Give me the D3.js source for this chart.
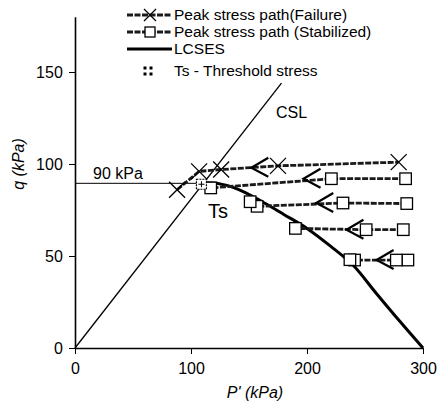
<!DOCTYPE html>
<html>
<head>
<meta charset="utf-8">
<script src="https://cdn.jsdelivr.net/npm/d3@7"></script>
<style>
  html, body { margin: 0; padding: 0; background: #fff; }
  svg { display: block; font-family: "Liberation Sans", Arial, sans-serif; }
</style>
</head>
<body>
<svg id="chart" width="437" height="409"></svg>
<script>
// Axis ticks
const xTicks = [0, 100, 200, 300];
const yTicks = [0, 50, 100, 150];

// Critical state line (p', q)
const cslP = [0, 178];
const cslQ = [0, 144];

// Limiting curve of stable effective stress (LCSES)
const lcsesP = [106, 115, 130, 145, 160, 180, 200, 220, 240, 260, 280, 300];
const lcsesQ = [89.5, 89.8, 88.5, 85, 80, 72.6, 65, 55.5, 44.8, 29.5, 14.5, 0];

// Peak stress path that ended in failure
const failP = [88, 107, 126, 175, 279];
const failQ = [86, 96, 97, 99, 101];
const failArrow = [152, 98];

// Peak stress paths that stabilized
const stabP = [
  [285, 221, 117],
  [286, 231, 157, 151],
  [283, 251, 190],
  [287, 277, 241, 237]
];
const stabQ = [
  [92, 92, 87],
  [78.5, 78.8, 77, 79.5],
  [64.3, 64.3, 65],
  [47.8, 47.8, 47.8, 48]
];
const stabArrowP = [197, 208, 234, 260];
const stabArrowQ = [92, 78.8, 64.3, 47.8];

// Threshold stress
const tsP = [109];
const tsQ = [89];
const thresholdQ = 89.5;

const legendLabels = [
  "Peak stress path(Failure)",
  "Peak stress path (Stabilized)",
  "LCSES",
  "Ts - Threshold stress"
];

const svg = d3.select("#chart");
const x = d3.scaleLinear().domain([0, 300]).range([75, 423]);
const y = d3.scaleLinear().domain([0, 180]).range([348, 16.8]);

// Axes
const xAxis = d3.axisBottom(x).tickValues(xTicks).tickSize(6).tickSizeOuter(0);
const yAxis = d3.axisLeft(y).tickValues(yTicks).tickSize(6).tickSizeOuter(0);

const gx = svg.append("g").attr("transform", `translate(0,${y(0)})`).call(xAxis);
const gy = svg.append("g").attr("transform", `translate(${x(0)},0)`).call(yAxis);
[gx, gy].forEach(g => {
  g.select(".domain").attr("stroke", "#000").attr("stroke-width", 1.6);
  g.selectAll(".tick line").attr("stroke", "#000").attr("stroke-width", 1);
  g.selectAll(".tick text").attr("fill", "#000").attr("font-size", 16)
    .attr("font-family", "Liberation Sans, Arial, sans-serif");
});
gx.selectAll(".tick text").attr("dy", "1.05em");
gy.selectAll(".tick text").attr("dx", "-0.2em");

svg.append("text").attr("x", 255).attr("y", 398).attr("text-anchor", "middle")
  .attr("font-size", 16).attr("font-style", "italic").text("P' (kPa)");
svg.append("text").attr("transform", "translate(24,164) rotate(-90)")
  .attr("text-anchor", "middle").attr("font-size", 16).attr("font-style", "italic")
  .text("q (kPa)");

const line = d3.line().x(d => x(d[0])).y(d => y(d[1]));
const zip = (a, b) => a.map((v, i) => [v, b[i]]);

// Threshold guide line
svg.append("path").attr("d", line([[0, thresholdQ], [tsP[0], thresholdQ]]))
  .attr("stroke", "#000").attr("stroke-width", 1).attr("fill", "none");
svg.append("text").attr("x", 93).attr("y", 179).attr("font-size", 16).text("90 kPa");

// CSL
svg.append("path").attr("d", line(zip(cslP, cslQ)))
  .attr("stroke", "#000").attr("stroke-width", 1.3).attr("fill", "none");
svg.append("text").attr("x", 276).attr("y", 118).attr("font-size", 16).text("CSL");

// LCSES
svg.append("path")
  .attr("d", d3.line().x(d => x(d[0])).y(d => y(d[1])).curve(d3.curveMonotoneX)(zip(lcsesP, lcsesQ)))
  .attr("stroke", "#000").attr("stroke-width", 3).attr("fill", "none");

// Stress paths
const pathStyle = sel => sel.attr("stroke", "#1a1a1a").attr("stroke-width", 2.8)
  .attr("stroke-dasharray", "6,1.5").attr("fill", "none");

function drawX(g, cx, cy, r) {
  g.append("path").attr("d", `M${cx - r},${cy - r}L${cx + r},${cy + r}M${cx - r},${cy + r}L${cx + r},${cy - r}`)
    .attr("stroke", "#000").attr("stroke-width", 1.3).attr("fill", "none");
}
function drawSquare(g, cx, cy, s) {
  g.append("rect").attr("x", cx - s / 2).attr("y", cy - s / 2).attr("width", s).attr("height", s)
    .attr("fill", "#fff").attr("stroke", "#000").attr("stroke-width", 1.3);
}
function drawArrow(g, cx, cy) {
  g.append("path").attr("d", `M${cx + 17},${cy - 10}L${cx},${cy}L${cx + 17},${cy + 9}`)
    .attr("stroke", "#000").attr("stroke-width", 2.2).attr("fill", "none");
}

const gPaths = svg.append("g");
stabP.forEach((ps, i) => {
  gPaths.append("path").attr("d", line(zip(ps, stabQ[i]))).call(pathStyle);
});
gPaths.append("path").attr("d", line(zip(failP, failQ))).call(pathStyle);

stabP.forEach((ps, i) => {
  drawArrow(gPaths, x(stabArrowP[i]), y(stabArrowQ[i]));
  ps.forEach((p, j) => drawSquare(gPaths, x(p), y(stabQ[i][j]), 11.5));
});
drawArrow(gPaths, x(failArrow[0]), y(failArrow[1]));
failP.forEach((p, j) => drawX(gPaths, x(p), y(failQ[j]), 8));

// Threshold stress markers
tsP.forEach((p, i) => {
  gPaths.append("rect").attr("x", x(p) - 5).attr("y", y(tsQ[i]) - 5).attr("width", 10).attr("height", 10)
    .attr("fill", "#fff").attr("stroke", "#000").attr("stroke-width", 1.2).attr("stroke-dasharray", "2,1");
  gPaths.append("path").attr("d", `M${x(p) - 3},${y(tsQ[i])}L${x(p) + 3},${y(tsQ[i])}M${x(p)},${y(tsQ[i]) - 3}L${x(p)},${y(tsQ[i]) + 3}`)
    .attr("stroke", "#000").attr("stroke-width", 1);
});
svg.append("text").attr("x", 208).attr("y", 218).attr("font-size", 20).text("Ts");

// Legend
const legY = [15, 32, 49, 71];
const lg = svg.append("g");
legendLabels.forEach((t, i) => {
  lg.append("text").attr("x", 174).attr("y", legY[i]).attr("dy", "0.35em")
    .attr("font-size", 15.5).text(t);
});
lg.append("path").attr("d", `M127,${legY[0]}H172`).call(pathStyle);
drawX(lg, 150, legY[0], 6);
lg.append("path").attr("d", `M127,${legY[1]}H172`).call(pathStyle);
drawSquare(lg, 150, legY[1], 10);
lg.append("path").attr("d", `M127,${legY[2]}H172`).attr("stroke", "#000").attr("stroke-width", 3);
[[145, -3], [151, -3], [145, 3], [151, 3]].forEach(d => {
  lg.append("rect").attr("x", d[0] - 1.5).attr("y", legY[3] + d[1] - 1.5).attr("width", 3).attr("height", 3).attr("fill", "#000");
});
</script>
</body>
</html>
